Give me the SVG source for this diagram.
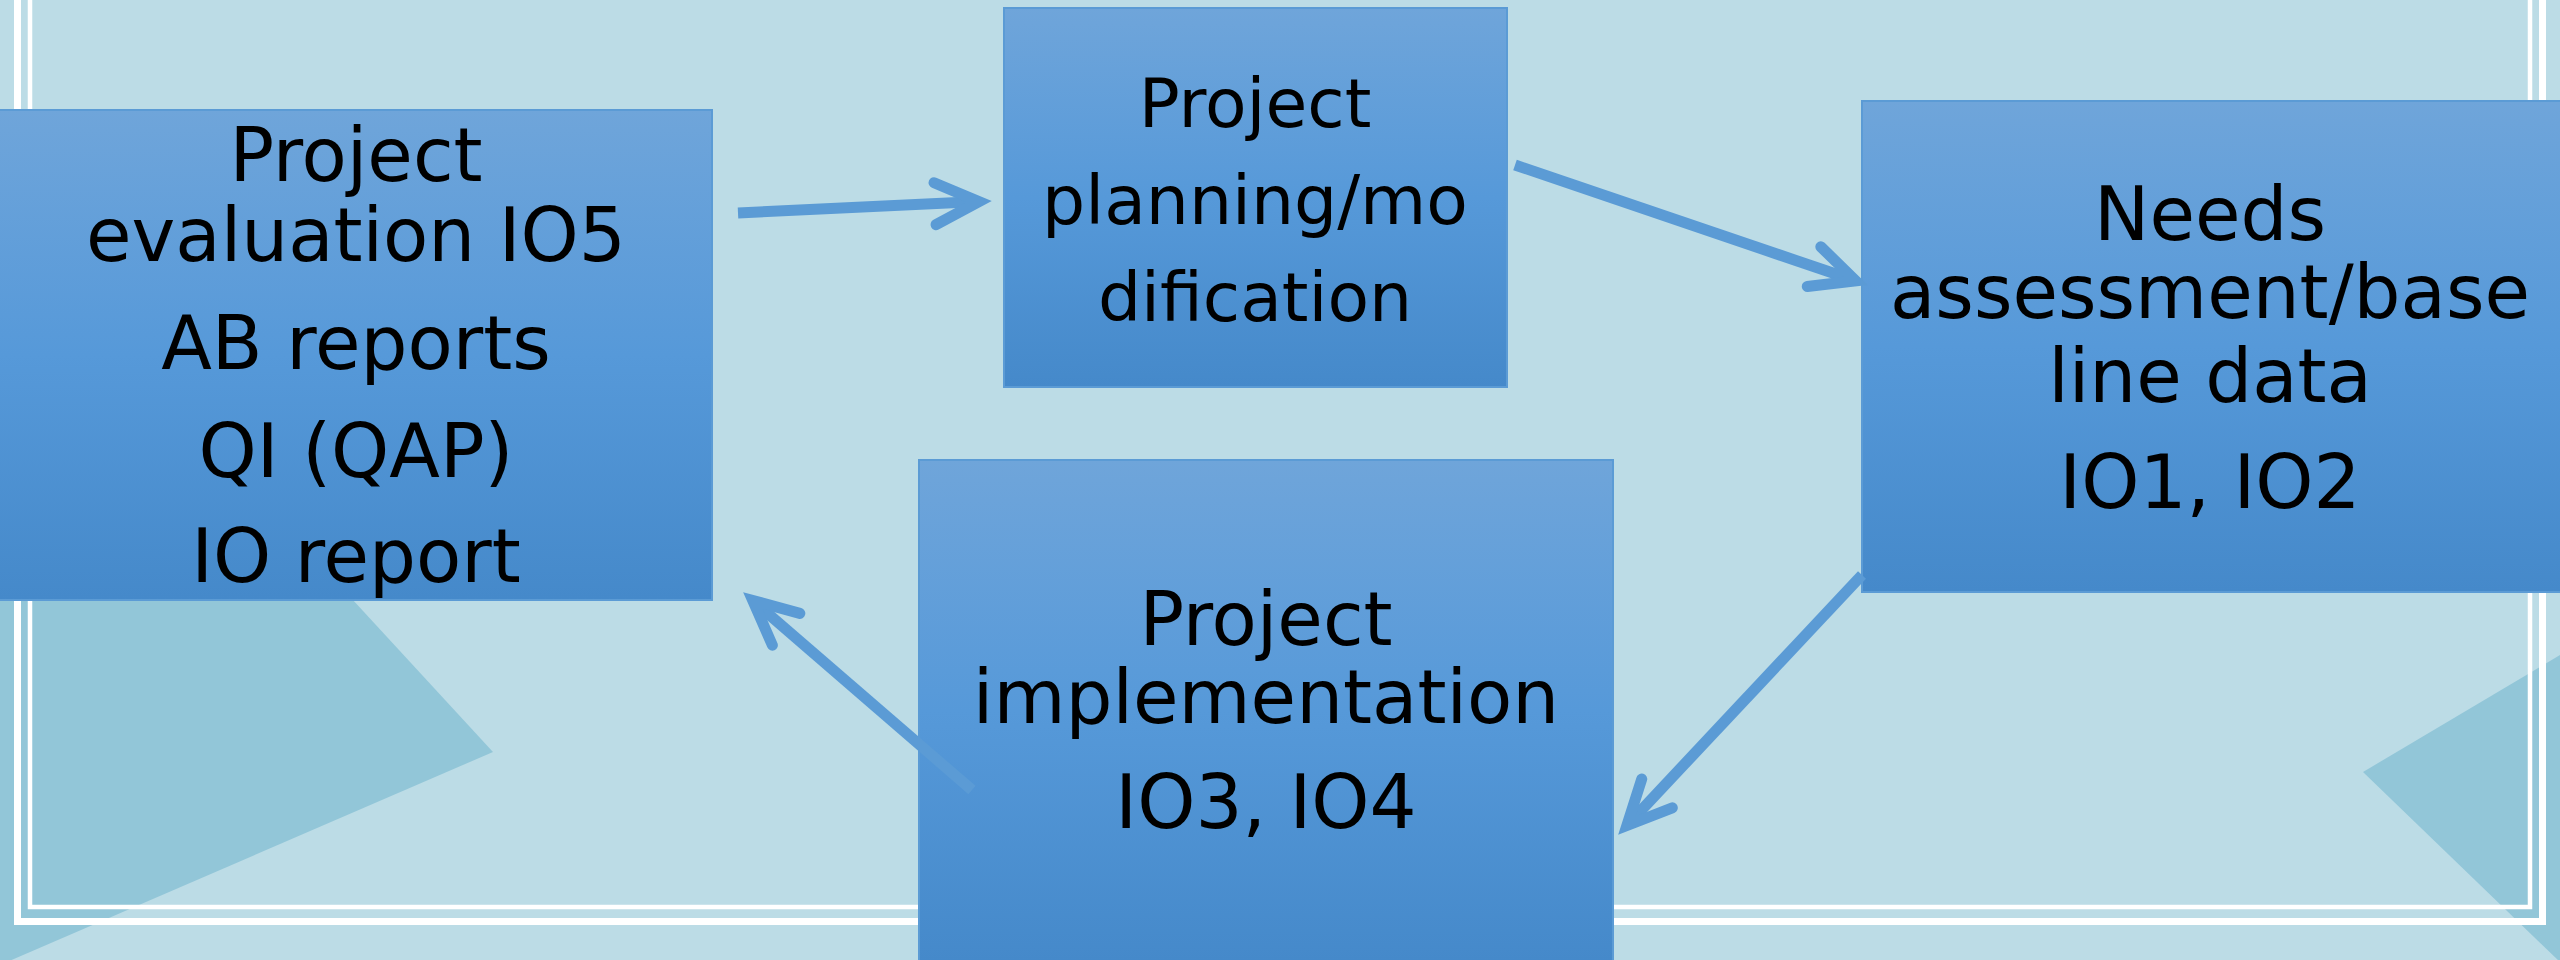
<svg xmlns="http://www.w3.org/2000/svg" width="2560" height="960" viewBox="0 0 2560 960">
  <defs>
    <linearGradient id="boxGrad" x1="0" y1="0" x2="0" y2="1">
      <stop offset="0" stop-color="#6fa5da"/>
      <stop offset="0.5" stop-color="#5699d9"/>
      <stop offset="1" stop-color="#4589ca"/>
    </linearGradient>
    <marker id="chev" markerUnits="userSpaceOnUse" markerWidth="120" markerHeight="120" refX="0" refY="0" orient="auto" viewBox="-70 -60 120 120" overflow="visible">
      <path d="M-44,-21 L0,0 L-44,21" fill="none" stroke="#5b9bd5" stroke-width="11" stroke-linecap="round" stroke-linejoin="miter" stroke-miterlimit="10"/>
    </marker>
  </defs>
  <style>
    .box { fill: url(#boxGrad); stroke: #5b9bd5; stroke-width: 2; }
    .lbl { font-family: "DejaVu Sans", "Liberation Sans", sans-serif; font-size: 74px; fill: #000; text-anchor: middle; }
    .lbl2 { font-family: "DejaVu Sans", "Liberation Sans", sans-serif; font-size: 68px; fill: #000; text-anchor: middle; }
    .frame { fill: none; stroke: #ffffff; }
    .conn { fill: none; stroke: #5b9bd5; stroke-width: 11; stroke-linecap: butt; marker-end: url(#chev); }
  </style>

  <rect x="0" y="0" width="2560" height="960" fill="#bcdce6"/>
  <polygon points="0,217 493,752 0,965" fill="#92c6d8"/>
  <polygon points="2560,655 2363,772 2560,962" fill="#92c6d8"/>

  <rect class="frame" x="17.5" y="-20" width="2525" height="941.5" stroke-width="7"/>
  <rect class="frame" x="30" y="-20" width="2500" height="927" stroke-width="4.5"/>

  <g id="node-evaluation">
    <rect class="box" x="-2" y="110" width="714" height="490"/>
    <text class="lbl" x="356" y="181">Project</text>
    <text class="lbl" x="356" y="261">evaluation IO5</text>
    <text class="lbl" x="356" y="369">AB reports</text>
    <text class="lbl" x="356" y="477">QI (QAP)</text>
    <text class="lbl" x="356" y="582">IO report</text>
  </g>

  <g id="node-planning">
    <rect class="box" x="1004" y="8" width="503" height="379"/>
    <text class="lbl2" x="1255" y="127">Project</text>
    <text class="lbl2" x="1255" y="224">planning/mo</text>
    <text class="lbl2" x="1255" y="321">dification</text>
  </g>

  <g id="node-needs">
    <rect class="box" x="1862" y="101" width="700" height="491"/>
    <text class="lbl" x="2210" y="240">Needs</text>
    <text class="lbl" x="2210" y="318">assessment/base</text>
    <text class="lbl" x="2210" y="402">line data</text>
    <text class="lbl" x="2210" y="508">IO1, IO2</text>
  </g>

  <g id="node-implementation">
    <rect class="box" x="919" y="460" width="694" height="502"/>
    <text class="lbl" x="1266" y="645">Project</text>
    <text class="lbl" x="1266" y="723">implementation</text>
    <text class="lbl" x="1266" y="828">IO3, IO4</text>
  </g>

  <g id="connectors">
    <line class="conn" x1="738" y1="213" x2="979" y2="201.6"/>
    <line class="conn" x1="1515" y1="165" x2="1855.7" y2="280.8"/>
    <line class="conn" x1="1862" y1="575" x2="1626.9" y2="825.5"/>
    <line class="conn" x1="972" y1="790" x2="752.8" y2="600.5"/>
  </g>
</svg>
